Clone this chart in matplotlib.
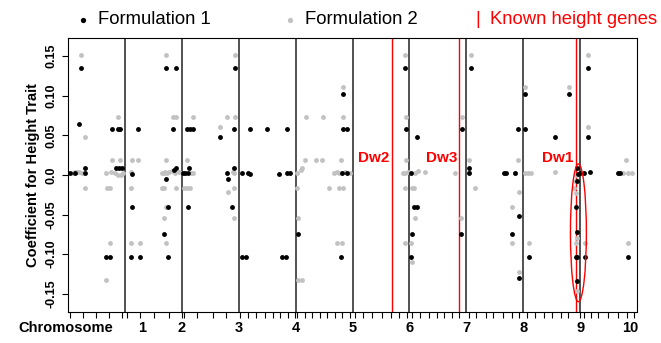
import matplotlib
matplotlib.use('Agg')
import matplotlib.pyplot as plt
from matplotlib.patches import Ellipse
from matplotlib.lines import Line2D

plt.rcParams['font.family'] = ['Liberation Sans', 'DejaVu Sans']

# позиции по геному: целая часть = граница хромосомы
f1_x = [0.22, 0.19, 0.77, 0.87, 0.91, 1.23, 0.85, 0.90, 0.95, 0.29, 0.29, 0.03, 0.12,
        1.12, 1.12, 0.66, 0.73, 1.11, 1.26,
        1.73, 1.90, 1.85, 2.09, 2.14, 2.20, 2.67, 2.92, 3.19, 2.93,
        1.73, 1.90, 1.86, 2.02, 2.06, 2.11, 2.12, 1.75, 2.11, 1.69, 1.75,
        2.80, 2.82, 2.92, 2.89, 3.05, 3.17, 3.20, 3.05, 3.13,
        3.50, 3.85, 3.71, 3.85, 3.91, 3.76, 3.83,
        4.04, 4.84, 4.83, 4.90, 4.82, 4.91, 4.79,
        5.92, 5.94, 6.14, 6.02, 6.08, 6.13, 6.05, 6.02,
        7.08, 6.92, 7.04, 7.04, 6.91, 7.66, 7.69, 7.85, 7.91, 7.92, 7.81, 7.92, 8.04, 8.04, 8.11,
        8.81, 8.55, 9.13, 9.13, 9.06, 9.17, 9.66, 9.70, 9.84,
        8.94, 8.95, 8.93, 8.94, 8.92, 8.95, 8.94, 9.09, 8.97, 9.00]
f1_y = [0.1355, 0.065, 0.058, 0.058, 0.058, 0.058, 0.009, 0.009, 0.009, 0.009, 0.003, 0.003, 0.003,
        0.001, -0.040, -0.103, -0.103, -0.103, -0.103,
        0.1355, 0.1355, 0.058, 0.058, 0.058, 0.058, 0.048, 0.058, 0.058, 0.1355,
        -0.005, 0.009, 0.006, 0.003, 0.003, 0.003, 0.009, -0.040, -0.040, -0.075, -0.103,
        0.003, -0.005, 0.009, -0.040, 0.003, 0.003, 0.001, -0.103, -0.103,
        0.058, 0.058, 0.0017, 0.003, 0.002, -0.103, -0.103,
        -0.075, 0.102, 0.058, 0.058, 0.003, 0.003, -0.103,
        0.1355, 0.058, 0.048, 0.002, -0.040, -0.040, -0.075, -0.103,
        0.1355, 0.058, 0.009, 0.003, -0.075, 0.002, 0.002, 0.002, 0.058, -0.052, -0.075, -0.130, 0.102, 0.058, -0.103,
        0.102, 0.048, 0.1355, 0.048, 0.003, 0.004, 0.002, 0.002, -0.103,
        0.0085, -0.007, -0.040, -0.072, -0.103, -0.103, -0.134, -0.103, 0.001, 0.003]

f2_x = [0.22, 0.29, 0.88, 0.77, 0.91, 1.12, 1.23,
        0.08, 0.12, 0.16, 0.20, 0.25,
        0.29, 0.68, 0.73, 1.11,
        0.67, 0.75, 0.82, 0.88, 0.93, 0.97, 1.10,
        0.73, 1.11, 1.26, 0.66,
        1.65, 1.65,
        1.73, 1.85, 1.90, 2.19, 2.67, 2.79, 2.93, 2.93,
        1.73, 2.09,
        1.68, 1.71, 1.74, 1.78, 1.82, 1.88, 1.95, 2.16, 2.19,
        1.68, 1.90, 2.03, 2.09, 2.14,
        1.72, 1.69, 1.73,
        2.92, 2.81, 2.92, 2.92, 2.90,
        4.02, 4.09, 4.12, 4.02, 4.04, 4.05, 4.12,
        4.19, 4.48, 4.83, 4.17, 4.35, 4.47, 4.80, 4.84,
        4.67, 4.72, 4.77, 4.86, 4.95,
        4.59, 4.76, 4.83, 4.72, 4.82,
        5.92, 5.94, 5.94, 5.89, 5.93, 5.98, 6.10, 6.15, 6.28,
        5.92, 6.05, 6.08, 6.10, 5.92, 6.02, 6.05,
        7.08, 6.92, 7.04, 7.04, 6.80, 7.16, 6.91,
        7.85, 7.91, 7.92, 7.81, 7.81, 7.92,
        8.04, 8.04, 8.09, 8.14, 8.11,
        8.81, 8.55, 9.13, 9.13, 9.81, 9.76, 9.85, 9.92, 9.84, 9.09,
        8.93, 8.91, 8.90, 8.92, 8.94, 8.92, 8.94]
f2_y = [0.152, 0.048, 0.0736, 0.019, 0.019, 0.019, 0.019,
        0.003, 0.004, 0.004, 0.004, 0.003,
        -0.016, -0.016, -0.016, -0.016,
        0.003, 0.004, 0.002, 0.0, 0.0, 0.002, 0.004,
        -0.086, -0.086, -0.086, -0.132,
        0.003, -0.016,
        0.152, 0.0736, 0.0736, 0.0736, 0.061, 0.0736, 0.0736, 0.152,
        0.019, 0.019,
        0.003, 0.004, 0.003, 0.004, 0.005, 0.002, 0.004, 0.003, 0.003,
        -0.016, -0.016, -0.016, -0.016, -0.016,
        -0.040, -0.054, -0.086,
        0.003, -0.021, -0.016, -0.054, 0.004,
        0.003, 0.006, 0.009, -0.016, -0.054, -0.132, -0.132,
        0.0736, 0.0736, 0.0736, 0.019, 0.019, 0.019, 0.019, 0.1115,
        0.003, 0.004, 0.003, 0.004, 0.003,
        -0.016, -0.016, -0.016, -0.086, -0.086,
        0.152, 0.0736, 0.019, 0.003, 0.002, 0.004, 0.003, 0.005, 0.004,
        -0.016, -0.016, -0.016, -0.054, -0.086, -0.086, -0.1095,
        0.152, 0.0736, 0.019, 0.004, 0.003, -0.016, -0.054,
        0.003, 0.019, -0.021, -0.040, -0.086, -0.123,
        0.1115, 0.003, 0.003, 0.003, -0.086,
        0.1115, 0.004, 0.152, 0.060, 0.019, 0.003, 0.003, 0.003, -0.086, -0.086,
        0.0, -0.008, -0.016, -0.023, -0.079, -0.086, -0.147]

chrom_bounds = [1, 2, 3, 4, 5, 6, 7, 8, 9]
chrom_names = ['1', '2', '3', '4', '5', '6', '7', '8', '9', '10']
chrom_label_x = [1.30, 2.0, 3.0, 4.0, 5.0, 6.0, 7.0, 8.0, 9.0, 9.88]

genes = ['Dw2', 'Dw3', 'Dw1']
gene_x = [5.69, 6.88, 8.93]

marker_x = [0.03, 0.26, 0.50, 0.72, 0.95, 1.03, 1.26, 1.51, 1.77, 2.01, 2.04, 2.27, 2.54, 2.77,
            3.03, 3.17, 3.30, 3.46, 3.60, 3.73, 3.86, 3.99, 4.03, 4.16, 4.29, 4.42, 4.56, 4.69,
            4.82, 4.95, 5.05, 5.19, 5.35, 5.52, 5.67, 5.81, 5.95, 6.05, 6.18, 6.34, 6.48, 6.61,
            6.74, 6.87, 7.04, 7.17, 7.34, 7.47, 7.64, 7.80, 7.93, 8.07, 8.20, 8.36, 8.50, 8.66,
            8.79, 8.99, 9.06, 9.19, 9.32, 9.49, 9.66, 9.82, 9.95]

yticks = [-0.15, -0.10, -0.05, 0.0, 0.05, 0.10, 0.15]
ytick_labels = ['-0.15', '-0.10', '-0.05', '0.0', '0.05', '0.10', '0.15']

fig = plt.figure(figsize=(6.61, 3.43), dpi=100)
ax = fig.add_axes([0.1029, 0.0904, 0.8608, 0.7988])

for b in chrom_bounds:
    ax.axvline(b, color='#333333', lw=1.2, zorder=1)
for g, gx in zip(genes, gene_x):
    ax.axvline(gx, color='red', lw=1.0, zorder=1)
    ax.text(gx - 0.04, 0.022, g, color='red', fontsize=11, fontweight='bold',
            ha='right', va='center')

ax.plot(f2_x, f2_y, 'o', color='#c2c2c2', ms=3.5, mec='none', zorder=2)
ax.plot(f1_x, f1_y, 'o', color='black', ms=3.5, mec='none', zorder=3)

ax.add_patch(Ellipse((8.97, -0.073), 0.28, 0.174, fill=False, ec='red', lw=1.0, zorder=4))

ax.set_xlim(0, 10)
ax.set_ylim(-0.173, 0.173)
ax.set_yticks(yticks)
ax.set_yticklabels(ytick_labels, rotation=90, va='center', fontweight='bold', fontsize=9)
ax.set_xticks(marker_x)
ax.set_xticklabels([])
ax.tick_params(axis='both', length=4, width=0.8, direction='out')
ax.set_ylabel('Coefficient for Height Trait', fontweight='bold', fontsize=10.5, labelpad=4)

for name, lx in zip(chrom_names, chrom_label_x):
    ax.text(lx, -0.058, name, transform=ax.get_xaxis_transform(), ha='center', va='center',
            fontsize=10.5, fontweight='bold')
fig.text(0.099, 0.0437, 'Chromosome', ha='center', va='center', fontsize=10.5, fontweight='bold')

# легенда сверху
fig.add_artist(Line2D([0.1256], [0.9417], marker='o', color='black', ms=3.8, mec='none'))
fig.text(0.148, 0.9417, 'Formulation 1', ha='left', va='center', fontsize=13.3)
fig.add_artist(Line2D([0.4387], [0.9417], marker='o', color='#c2c2c2', ms=3.8, mec='none'))
fig.text(0.4614, 0.9417, 'Formulation 2', ha='left', va='center', fontsize=13.3)
fig.text(0.7231, 0.9417, '|', ha='center', va='center', fontsize=13, color='red')
fig.text(0.7413, 0.9417, 'Known height genes', ha='left', va='center', fontsize=13.3, color='red')

fig.savefig('out.png', dpi=100)
